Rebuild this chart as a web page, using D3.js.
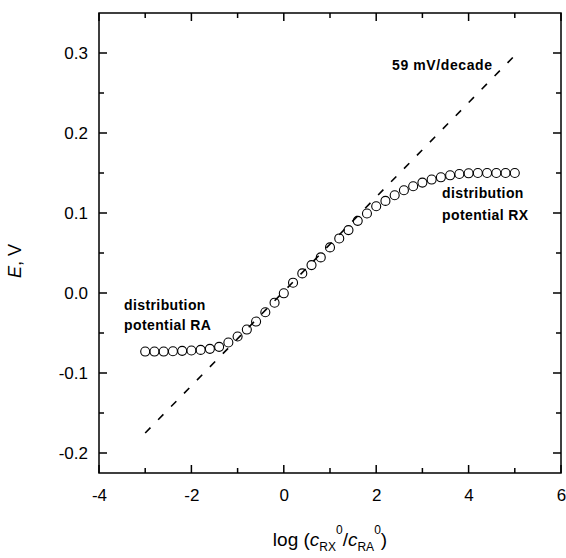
<!DOCTYPE html>
<html>
<head>
<meta charset="utf-8">
<script src="https://cdn.jsdelivr.net/npm/d3@7"></script>
<style>
  html, body { margin: 0; padding: 0; background: #fff; }
  svg { display: block; }
  text { font-family: "Liberation Sans", Arial, sans-serif; fill: #000; }
</style>
</head>
<body>
<svg id="chart" width="566" height="558"></svg>
<script>
// ---- data ----
const logRatio = [-3.0, -2.8, -2.6, -2.4, -2.2, -2.0, -1.8, -1.6, -1.4, -1.2,
                  -1.0, -0.8, -0.6, -0.4, -0.2, 0.0, 0.2, 0.4, 0.6, 0.8,
                  1.0, 1.2, 1.4, 1.6, 1.8, 2.0, 2.2, 2.4, 2.6, 2.8,
                  3.0, 3.2, 3.4, 3.6, 3.8, 4.0, 4.2, 4.4, 4.6, 4.8, 5.0];
const potentialE = [-0.0732, -0.0732, -0.0732, -0.0728, -0.0723, -0.0719, -0.0711, -0.0698, -0.0673, -0.0619,
                    -0.0544, -0.0457, -0.0357, -0.0241, -0.0121, -0.0004, 0.0129, 0.0245, 0.0349, 0.0445,
                    0.0570, 0.0682, 0.0786, 0.0902, 0.0994, 0.1085, 0.1151, 0.1222, 0.1284, 0.1334,
                    0.1380, 0.1418, 0.1446, 0.1471, 0.1488, 0.1496, 0.1500, 0.1500, 0.1500, 0.1500, 0.1500];
const slopeLineX = [-3, 5];
const slopeLineE = [-0.175, 0.297];
const xMajorTicks = [-4, -2, 0, 2, 4, 6];
const xMinorTicks = [-3, -1, 1, 3, 5];
const yMajorTicks = [-0.2, -0.1, 0.0, 0.1, 0.2, 0.3];
const yMinorTicks = [-0.15, -0.05, 0.05, 0.15, 0.25];
const xDomain = [-4, 6];
const yDomain = [-0.225, 0.35];

// ---- layout ----
const svg = d3.select("#chart");
const L = 99, R = 561, T = 13, B = 473;
const x = d3.scaleLinear().domain(xDomain).range([L, R]);
const y = d3.scaleLinear().domain(yDomain).range([B, T]);
const fmtX = d => String(d).replace("\u2212", "-");
const fmtY = d => d.toFixed(1).replace("\u2212", "-").replace("-0.0", "0.0");

const majorLen = 8, minorLen = 5;

// tick labels via d3 axes (tick lines drawn separately below)
svg.append("g").attr("transform", `translate(0,${B})`)
  .call(d3.axisBottom(x).tickValues(xMajorTicks).tickSize(0).tickPadding(16).tickFormat(fmtX))
  .call(g => g.select(".domain").remove())
  .call(g => g.selectAll("line").remove())
  .call(g => g.selectAll("text").attr("font-size", 17).attr("font-family", "Liberation Sans, Arial, sans-serif"));
svg.append("g").attr("transform", `translate(${L},0)`)
  .call(d3.axisLeft(y).tickValues(yMajorTicks).tickSize(0).tickPadding(11).tickFormat(fmtY))
  .call(g => g.select(".domain").remove())
  .call(g => g.selectAll("line").remove())
  .call(g => g.selectAll("text").attr("font-size", 17).attr("font-family", "Liberation Sans, Arial, sans-serif"));

// inward tick marks on all four sides
const tickG = svg.append("g").attr("class", "ticks");
function addTicks(vals, len, horizontal) {
  vals.forEach(v => {
    if (horizontal) {
      const px = x(v);
      tickG.append("line").attr("x1", px).attr("x2", px).attr("y1", B).attr("y2", B - len);
      tickG.append("line").attr("x1", px).attr("x2", px).attr("y1", T).attr("y2", T + len);
    } else {
      const py = y(v);
      tickG.append("line").attr("x1", L).attr("x2", L + len).attr("y1", py).attr("y2", py);
      tickG.append("line").attr("x1", R).attr("x2", R - len).attr("y1", py).attr("y2", py);
    }
  });
}
addTicks(xMajorTicks, majorLen, true);
addTicks(xMinorTicks, minorLen, true);
addTicks(yMajorTicks, majorLen, false);
addTicks(yMinorTicks, minorLen, false);
tickG.selectAll("line").attr("stroke", "#000").attr("stroke-width", 1.5);

// frame
const frame = d3.path();
frame.moveTo(L, B);
frame.lineTo(R, B);
frame.lineTo(R, T);
frame.lineTo(L, T);
frame.closePath();
svg.append("path").attr("d", frame.toString())
  .style("fill", "none").style("stroke", "#000").style("stroke-width", "1.5px");

// dashed 59 mV/decade line
const line = d3.line().x(d => x(d[0])).y(d => y(d[1]));
svg.append("path")
  .datum(slopeLineX.map((v, i) => [v, slopeLineE[i]]))
  .attr("d", line)
  .attr("fill", "none").attr("stroke", "#000").attr("stroke-width", 1.6)
  .attr("stroke-dasharray", "7.5,11");

// circles
svg.append("g").selectAll("circle")
  .data(logRatio.map((v, i) => [v, potentialE[i]]))
  .join("circle")
  .attr("cx", d => x(d[0])).attr("cy", d => y(d[1])).attr("r", 4.5)
  .attr("fill", "none").attr("stroke", "#000").attr("stroke-width", 1.1);

// annotations
const ann = svg.append("g").attr("font-size", 14).attr("font-weight", "bold").attr("letter-spacing", "0.4px");
ann.append("text").attr("x", 392).attr("y", 70).attr("letter-spacing", "0.6px").text("59 mV/decade");
ann.append("text").attr("x", 442).attr("y", 198).text("distribution");
ann.append("text").attr("x", 442).attr("y", 220).text("potential RX");
ann.append("text").attr("x", 124).attr("y", 310).text("distribution");
ann.append("text").attr("x", 124).attr("y", 330).text("potential RA");

// x title
const xt = svg.append("text").attr("x", (L + R) / 2).attr("y", 546)
  .attr("text-anchor", "middle").attr("font-size", 19);
xt.append("tspan").text("log (");
xt.append("tspan").attr("font-style", "italic").text("c");
xt.append("tspan").attr("font-size", 12).attr("dy", 5).text("RX");
xt.append("tspan").attr("font-size", 12).attr("dy", -17).text("0");
xt.append("tspan").attr("dy", 12).text("/");
xt.append("tspan").attr("font-style", "italic").text("c");
xt.append("tspan").attr("font-size", 12).attr("dy", 5).text("RA");
xt.append("tspan").attr("font-size", 12).attr("dy", -17).text("0");
xt.append("tspan").attr("dy", 12).text(")");

// y title
const yt = svg.append("text").attr("transform", "translate(21,261) rotate(-90)")
  .attr("text-anchor", "middle").attr("font-size", 18);
yt.append("tspan").attr("font-style", "italic").text("E");
yt.append("tspan").text(", V");
</script>
</body>
</html>
